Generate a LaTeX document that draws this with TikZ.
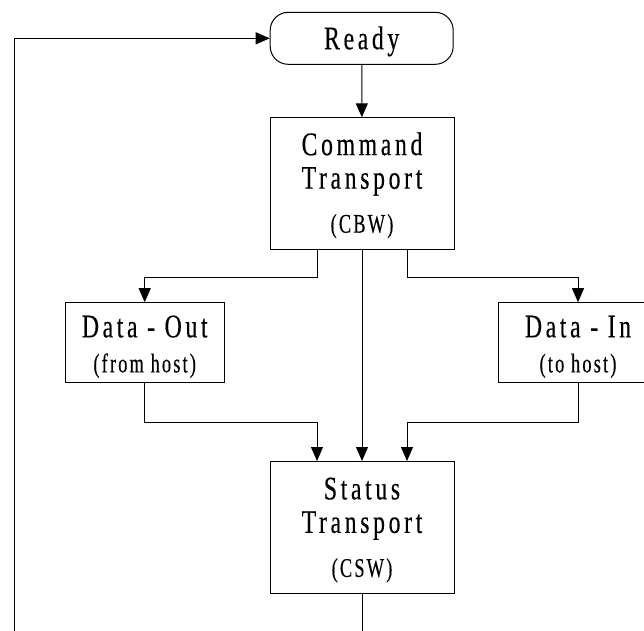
\documentclass[tikz,border=0pt]{standalone}
\usepackage{fontspec}
\newfontfamily\dfont[FakeStretch=0.72,LetterSpace=11,FakeBold=0.3]{Liberation Serif}
\newfontfamily\sfontx[FakeStretch=0.68,LetterSpace=8,FakeBold=0.3]{Liberation Serif}
\usetikzlibrary{arrows.meta}
\newcommand\subtxt[1]{{\sfontx\fontsize{27}{30}\selectfont #1}}
\newcommand\tstrut[1]{\rule{0pt}{#1}}
\tikzset{
  every path/.style={line width=1pt},
  boxbase/.style={draw, line width=1pt, inner sep=0pt, align=center,
    font=\dfont\fontsize{33}{33.5}\selectfont},
  bigbox/.style={boxbase, minimum width=184pt, minimum height=132pt},
  databox/.style={boxbase, minimum width=159pt, minimum height=80pt},
  termbox/.style={boxbase, rounded corners=18pt, minimum width=183pt, minimum height=52pt},
  arr/.style={-{Triangle[length=14pt,width=12pt]}},
}
\begin{document}
\begin{tikzpicture}[x=1pt,y=-1pt]
\useasboundingbox (0,0) rectangle (644,630);
\node[termbox] (ready) at (361.7,38.3) {\tstrut{29pt}Ready};
\node[bigbox] (cmd) at (362,183.8) {\tstrut{26pt}Command\\Transport\\[10.5pt]\subtxt{(CBW)}};
\node[databox] (dout) at (144.7,342.7) {\tstrut{30pt}Data - Out\\[1.5pt]\subtxt{(from host)}};
\node[databox] (din) at (578,342.7) {\tstrut{30pt}Data - In\\[1.5pt]\subtxt{(to host)}};
\node[bigbox] (stat) at (362,527.5) {\tstrut{27pt}Status\\Transport\\[10.5pt]\subtxt{(CSW)}};
\coordinate (lb) at (14.5,640);

\draw[arr] (ready) -- (cmd);
\draw[arr] ([xshift=-45pt]cmd.south) -- ++(0,26.7) -| (dout.north);
\draw[arr] ([xshift=45pt]cmd.south) -- ++(0,26.7) -| (din.north);
\draw[arr] (cmd) -- (stat);
\draw[arr] (dout.south) -- ++(0,39.6) -| ([xshift=-45pt]stat.north);
\draw[arr] (din.south) -- ++(0,39.6) -| ([xshift=45pt]stat.north);
\draw[arr] (stat.south) -- (stat.south |- lb) -- (lb) |- (ready.west);
\end{tikzpicture}
\end{document}
